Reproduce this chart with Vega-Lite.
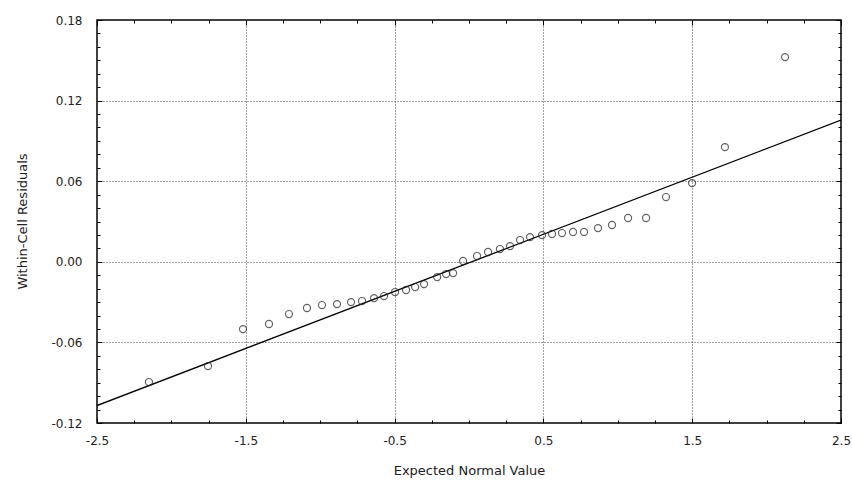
{
  "$schema": "https://vega.github.io/schema/vega-lite/v6.json",
  "width": 744,
  "height": 403,
  "autosize": {"type": "none"},
  "padding": {"left": 97, "top": 20, "right": 11, "bottom": 57},
  "background": "white",
  "title": {"text": "Normal Prob. Plot; Residuals", "fontSize": 13, "font": "DejaVu Sans", "fontWeight": "normal", "color": "#777", "offset": 16, "anchor": "middle", "dx": -20},
  "config": {
    "view": {"stroke": "black", "strokeWidth": 1.5},
    "axis": {
      "domain": false,
      "labelFont": "DejaVu Sans",
      "labelFontSize": 12,
      "labelFontWeight": "normal",
      "labelColor": "#222",
      "titleFont": "DejaVu Sans",
      "titleFontSize": 13,
      "titleFontWeight": "normal",
      "titleColor": "#222",
      "tickColor": "black",
      "gridColor": "#444",
      "gridDash": [1, 2],
      "gridWidth": 1
    }
  },
  "datasets": {
    "pts": [
      {"expected": -2.151, "residual": -0.0895},
      {"expected": -1.754, "residual": -0.0776},
      {"expected": -1.519, "residual": -0.0501},
      {"expected": -1.344, "residual": -0.0463},
      {"expected": -1.210, "residual": -0.0389},
      {"expected": -1.089, "residual": -0.0344},
      {"expected": -0.988, "residual": -0.0322},
      {"expected": -0.887, "residual": -0.0315},
      {"expected": -0.793, "residual": -0.0300},
      {"expected": -0.719, "residual": -0.0292},
      {"expected": -0.638, "residual": -0.0270},
      {"expected": -0.571, "residual": -0.0255},
      {"expected": -0.497, "residual": -0.0225},
      {"expected": -0.423, "residual": -0.0210},
      {"expected": -0.362, "residual": -0.0188},
      {"expected": -0.302, "residual": -0.0166},
      {"expected": -0.214, "residual": -0.0114},
      {"expected": -0.154, "residual": -0.0091},
      {"expected": -0.107, "residual": -0.0084},
      {"expected": -0.040, "residual": 0.0006},
      {"expected": 0.054, "residual": 0.0043},
      {"expected": 0.128, "residual": 0.0073},
      {"expected": 0.208, "residual": 0.0095},
      {"expected": 0.276, "residual": 0.0117},
      {"expected": 0.343, "residual": 0.0162},
      {"expected": 0.410, "residual": 0.0184},
      {"expected": 0.491, "residual": 0.0199},
      {"expected": 0.558, "residual": 0.0207},
      {"expected": 0.625, "residual": 0.0214},
      {"expected": 0.699, "residual": 0.0222},
      {"expected": 0.773, "residual": 0.0222},
      {"expected": 0.867, "residual": 0.0251},
      {"expected": 0.961, "residual": 0.0274},
      {"expected": 1.069, "residual": 0.0326},
      {"expected": 1.190, "residual": 0.0326},
      {"expected": 1.324, "residual": 0.0482},
      {"expected": 1.499, "residual": 0.0586},
      {"expected": 1.720, "residual": 0.0854},
      {"expected": 2.124, "residual": 0.1524}
    ],
    "fit": [
      {"expected": -2.5, "residual": -0.107},
      {"expected": 2.5, "residual": 0.1055}
    ]
  },
  "layer": [
    {
      "data": {"name": "fit"},
      "mark": {"type": "line", "color": "black", "strokeWidth": 1.3, "clip": true},
      "encoding": {
        "x": {
          "field": "expected", "type": "quantitative",
          "scale": {"domain": [-2.5, 2.5], "nice": false, "zero": false},
          "axis": {
            "orient": "top", "labels": false, "grid": false, "title": null,
            "values": [-2.5,-2.25,-2,-1.75,-1.5,-1.25,-1,-0.75,-0.5,-0.25,0,0.25,0.5,0.75,1,1.25,1.5,1.75,2,2.25,2.5],
            "tickSize": {"condition": {"test": "abs((datum.value+2.5)%1)<0.001", "value": -5}, "value": -3}
          }
        },
        "y": {
          "field": "residual", "type": "quantitative",
          "scale": {"domain": [-0.12, 0.18], "nice": false, "zero": false},
          "axis": {
            "orient": "right", "labels": false, "grid": false, "title": null,
            "values": [-0.12,-0.11,-0.1,-0.09,-0.08,-0.07,-0.06,-0.05,-0.04,-0.03,-0.02,-0.01,0,0.01,0.02,0.03,0.04,0.05,0.06,0.07,0.08,0.09,0.1,0.11,0.12,0.13,0.14,0.15,0.16,0.17,0.18],
            "tickSize": {"condition": {"test": "abs(round(datum.value*100)%6)==0", "value": -5}, "value": -3}
          }
        }
      }
    },
    {
      "data": {"name": "pts"},
      "mark": {"type": "point", "shape": "circle", "filled": false, "color": "#222", "size": 50, "strokeWidth": 1.2},
      "encoding": {
        "x": {
          "field": "expected", "type": "quantitative",
          "scale": {"domain": [-2.5, 2.5], "nice": false, "zero": false},
          "axis": {
            "orient": "bottom", "title": "Expected Normal Value",
            "values": [-2.5,-2.25,-2,-1.75,-1.5,-1.25,-1,-0.75,-0.5,-0.25,0,0.25,0.5,0.75,1,1.25,1.5,1.75,2,2.25,2.5],
            "labelExpr": "abs((datum.value+2.5)%1)<0.001 ? replace(format(datum.value,'.1f'),'\u2212','-') : ''",
            "labelPadding": 17,
            "labelFlush": false,
            "tickSize": {"condition": {"test": "abs((datum.value+2.5)%1)<0.001", "value": -5}, "value": -3},
            "grid": true,
            "gridOpacity": {"condition": {"test": "abs((datum.value+2.5)%1)<0.001", "value": 1}, "value": 0},
            "titleX": 372, "titleY": 47, "titleAlign": "center", "titleBaseline": "middle"
          }
        },
        "y": {
          "field": "residual", "type": "quantitative",
          "scale": {"domain": [-0.12, 0.18], "nice": false, "zero": false},
          "axis": {
            "orient": "left", "title": "Within-Cell Residuals",
            "values": [-0.12,-0.11,-0.1,-0.09,-0.08,-0.07,-0.06,-0.05,-0.04,-0.03,-0.02,-0.01,0,0.01,0.02,0.03,0.04,0.05,0.06,0.07,0.08,0.09,0.1,0.11,0.12,0.13,0.14,0.15,0.16,0.17,0.18],
            "labelExpr": "abs(round(datum.value*100)%6)==0 ? replace(format(datum.value,'.2f'),'\u2212','-') : ''",
            "labelPadding": 20,
            "labelFlush": false,
            "tickSize": {"condition": {"test": "abs(round(datum.value*100)%6)==0", "value": -5}, "value": -3},
            "grid": true,
            "gridOpacity": {"condition": {"test": "abs(round(datum.value*100)%6)==0", "value": 1}, "value": 0},
            "titleX": -75, "titleY": 201, "titleAngle": -90, "titleAlign": "center", "titleBaseline": "middle"
          }
        }
      }
    }
  ],
  "resolve": {"axis": {"x": "independent", "y": "independent"}}
}
